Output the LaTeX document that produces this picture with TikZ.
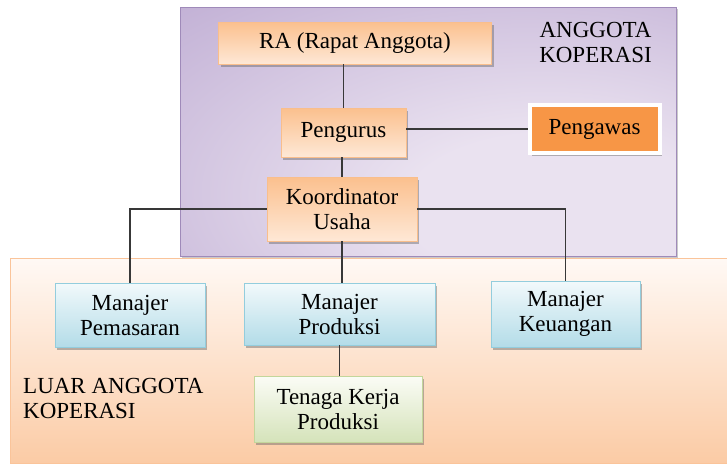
\documentclass[tikz,border=0pt]{standalone}
\usepackage{fontspec}
\setmainfont{Liberation Serif}
\newfontfamily\timesf{Liberation Serif}
\usetikzlibrary{shadows}
\definecolor{orTop}{HTML}{FBC08E}
\definecolor{orBot}{HTML}{FEE8D6}
\definecolor{orBorder}{HTML}{F9BE8C}
\definecolor{blTop}{HTML}{F2F9FB}
\definecolor{blBot}{HTML}{B3DCE8}
\definecolor{blBorder}{HTML}{93CDDD}
\definecolor{grTop}{HTML}{FBFCF6}
\definecolor{grBot}{HTML}{D5E3BA}
\definecolor{grBorder}{HTML}{C3D69B}
\definecolor{pengOr}{HTML}{F79646}
\definecolor{pin}{HTML}{EAE2F0}
\definecolor{pout}{HTML}{AE98C8}
\definecolor{purBorder}{HTML}{9F8AB9}
\definecolor{lowTop}{HTML}{FFF9F5}
\definecolor{lowBot}{HTML}{FBCBA5}
\definecolor{lowBorder}{HTML}{FAC49A}
\definecolor{connCol}{HTML}{383838}
\pgfdeclareradialshading{purpshade}{\pgfpoint{15bp}{-18bp}}{color(0bp)=(pin); color(15bp)=(pin); color(65bp)=(pout); color(100bp)=(pout)}
\newcommand{\boxfont}{\timesf\fontsize{23}{25}\selectfont}
\begin{document}
\begin{tikzpicture}[x=1pt,y=-1pt,
  box/.style={draw, line width=0.8pt, align=center, inner sep=0pt, font=\boxfont,
    drop shadow={shadow xshift=2pt, shadow yshift=-2.5pt, opacity=0.45, fill=black!60}},
  peachbox/.style={box, draw=orBorder, top color=orTop, bottom color=orBot},
  bluebox/.style={box, draw=blBorder, top color=blTop, bottom color=blBot},
  greenbox/.style={box, draw=grBorder, top color=grTop, bottom color=grBot},
  pengbox/.style={box, draw=white, line width=4pt, fill=pengOr},
  conn/.style={draw=connCol, line width=1.5pt},
  regionlabel/.style={font=\boxfont, inner sep=0pt}]
\useasboundingbox (0,0) rectangle (727,464);
% regions
\path[draw=lowBorder, line width=1pt, top color=lowTop, bottom color=lowBot] (10,258) rectangle (745,463);
\path[draw=purBorder, line width=0.8pt, shading=purpshade,
  drop shadow={shadow xshift=2pt, shadow yshift=-2pt, opacity=0.35, fill=black!60}] (180,7) rectangle (676,256);
\node[regionlabel, align=center] (anggota) at (595.5,42.5) {ANGGOTA\\KOPERASI};
\node[regionlabel, align=left, anchor=west] (luar) at (23,398) {LUAR ANGGOTA\\KOPERASI};
% boxes
\node[peachbox, minimum width=273pt, minimum height=42pt] (ra) at (355,43) {RA (Rapat Anggota)};
\node[peachbox, minimum width=125pt, minimum height=49pt] (peng) at (343.5,132.5) {Pengurus};
\node[pengbox, minimum width=130pt, minimum height=48pt] (pgw) at (594.5,129) {Pengawas};
\node[peachbox, minimum width=150pt, minimum height=64pt] (koord) at (342,209) {Koordinator\\Usaha};
\node[bluebox, minimum width=150pt, minimum height=64pt] (pem) at (130,315) {Manajer\\Pemasaran};
\node[bluebox, minimum width=191pt, minimum height=62pt] (prod) at (339.5,314) {Manajer\\Produksi};
\node[bluebox, minimum width=149pt, minimum height=66pt] (keu) at (565.5,314) {Manajer\\Keuangan};
\node[greenbox, minimum width=168pt, minimum height=66pt] (ten) at (338,409) {Tenaga Kerja\\Produksi};
% connectors
\draw[conn] (peng.north) -- (peng.north |- ra.south);
\draw[conn] (peng.east |- pgw.west) -- (pgw.west);
\draw[conn] (koord.north) -- (koord.north |- peng.south);
\draw[conn] (koord.west) -| (pem.north);
\draw[conn] (koord.east) -| (keu.north);
\draw[conn] (koord.south) -- (koord.south |- prod.north);
\draw[conn] (prod.south) -- (prod.south |- ten.north);
\end{tikzpicture}
\end{document}
